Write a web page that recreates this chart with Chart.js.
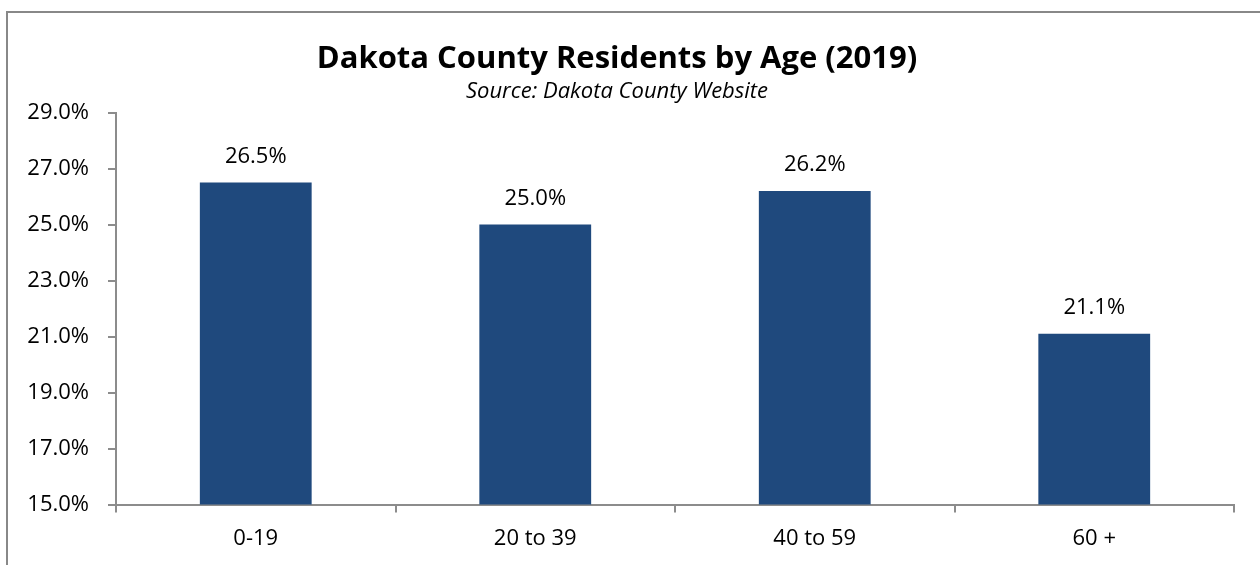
<!DOCTYPE html>
<html>
<head>
<meta charset="utf-8">
<script src="https://cdn.jsdelivr.net/npm/chart.js@4/dist/chart.umd.min.js"></script>
<style>
  html, body { margin: 0; padding: 0; background: #fff; }
  #wrap { width: 1260px; height: 565px; position: relative; }
</style>
</head>
<body>
<div id="wrap"><canvas id="ageChart" width="1260" height="565"></canvas></div>
<script>
const ageGroups = ['0-19', '20 to 39', '40 to 59', '60 +'];
const residentShare = [26.5, 25.0, 26.2, 21.1];
const yTicks = [15, 17, 19, 21, 23, 25, 27, 29];

const FONT = "'Open Sans', 'Noto Sans', sans-serif";
const AXIS_GRAY = '#8c8c8c';

// outer frame of the chart object
const framePlugin = {
  id: 'frame',
  beforeDraw(chart) {
    const ctx = chart.ctx;
    ctx.save();
    ctx.fillStyle = '#fff';
    ctx.fillRect(0, 0, chart.width, chart.height);
    ctx.strokeStyle = '#888888';
    ctx.lineWidth = 2;
    ctx.strokeRect(7, 12, 1300, 600);
    ctx.restore();
  }
};

// value labels above each bar
const valueLabels = {
  id: 'valueLabels',
  afterDatasetsDraw(chart) {
    const ctx = chart.ctx;
    const meta = chart.getDatasetMeta(0);
    ctx.save();
    ctx.font = '22px ' + FONT;
    ctx.fillStyle = '#000';
    ctx.textAlign = 'center';
    ctx.textBaseline = 'middle';
    meta.data.forEach((bar, i) => {
      ctx.fillText(residentShare[i].toFixed(1) + '%', bar.x, bar.y - 26);
    });
    ctx.restore();
  }
};

new Chart(document.getElementById('ageChart'), {
  type: 'bar',
  data: {
    labels: ageGroups,
    datasets: [{
      data: residentShare,
      backgroundColor: '#1f497d',
      borderWidth: 0,
      categoryPercentage: 1,
      barPercentage: 0.4
    }]
  },
  options: {
    responsive: false,
    animation: false,
    events: [],
    layout: { padding: { left: 0, right: 26, top: 0, bottom: 0 } },
    plugins: {
      legend: { display: false },
      tooltip: { enabled: false },
      title: {
        display: true,
        text: 'Dakota County Residents by Age (2019)',
        color: '#000',
        font: { family: FONT, size: 31, weight: 'bold' },
        padding: { top: 41, bottom: 0 }
      },
      subtitle: {
        display: true,
        text: 'Source: Dakota County Website',
        color: '#000',
        font: { family: FONT, size: 22, style: 'italic' },
        padding: { top: 0, bottom: 8 }
      }
    },
    scales: {
      x: {
        grid: {
          display: true,
          offset: true,
          drawOnChartArea: false,
          drawTicks: true,
          tickLength: 8,
          color: AXIS_GRAY,
          lineWidth: 2
        },
        border: { display: true, color: AXIS_GRAY, width: 2 },
        ticks: {
          color: '#000',
          padding: 13,
          font: { family: FONT, size: 22 }
        }
      },
      y: {
        min: 15,
        max: 29,
        afterBuildTicks(scale) {
          scale.ticks = yTicks.map(v => ({ value: v }));
        },
        afterFit(scale) {
          scale.width = 116;
        },
        grid: {
          display: true,
          drawOnChartArea: false,
          drawTicks: true,
          tickLength: 8,
          color: AXIS_GRAY,
          lineWidth: 2
        },
        border: { display: true, color: AXIS_GRAY, width: 2 },
        ticks: {
          color: '#000',
          padding: 19,
          font: { family: FONT, size: 22 },
          callback: v => Number(v).toFixed(1) + '%'
        }
      }
    }
  },
  plugins: [framePlugin, valueLabels]
});
</script>
</body>
</html>
